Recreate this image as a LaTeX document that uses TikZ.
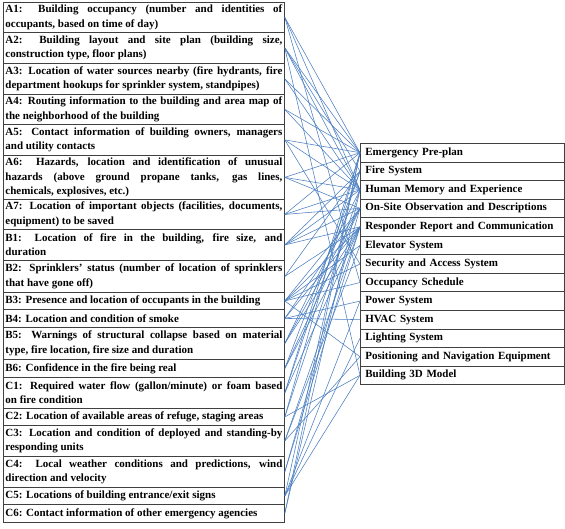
\documentclass[tikz,border=0pt]{standalone}
\usepackage{fontspec}
\setmainfont{Liberation Serif}
\definecolor{linkblue}{RGB}{74,126,192}
\begin{document}
\begin{tikzpicture}[x=1pt,y=-1pt,
  boxfont/.style={font=\fontsize{11}{14.5}\selectfont\bfseries},
  lbox/.style={draw=black!75, line width=0.8pt, anchor=north west, text width=277pt,
    inner xsep=2pt, inner ysep=0pt, align=justify, boxfont},
  rbox/.style={draw=black!75, line width=0.8pt, anchor=north west, text width=194pt,
    minimum height=18.55pt, inner xsep=5pt, inner ysep=0pt, align=left, boxfont},
  link/.style={draw=linkblue, line width=0.55pt}]
\useasboundingbox (0,0) rectangle (565,528);
% left boxes
\node[lbox, minimum height=30pt] (A1) at (3,2) {A1: Building occupancy (number and identities of\linebreak occupants, based on time of day)};
\node[lbox, minimum height=31pt] (A2) at (3,32) {A2: Building layout and site plan (building size,\linebreak construction type, floor plans)};
\node[lbox, minimum height=31pt] (A3) at (3,63) {A3: Location of water sources nearby (fire hydrants, fire\linebreak department hookups for sprinkler system, standpipes)};
\node[lbox, minimum height=30pt] (A4) at (3,94) {A4: Routing information to the building and area map of\linebreak the neighborhood of the building};
\node[lbox, minimum height=31pt] (A5) at (3,124) {A5: Contact information of building owners, managers\linebreak and utility contacts};
\node[lbox, minimum height=44pt] (A6) at (3,155) {A6: Hazards, location and identification of unusual\linebreak hazards (above ground propane tanks, gas lines,\linebreak chemicals, explosives, etc.)};
\node[lbox, minimum height=30pt] (A7) at (3,199) {A7: Location of important objects (facilities, documents,\linebreak equipment) to be saved};
\node[lbox, minimum height=31pt] (B1) at (3,229) {B1: Location of fire in the building, fire size, and\linebreak duration};
\node[lbox, minimum height=32pt] (B2) at (3,260) {B2: Sprinklers’ status (number of location of sprinklers\linebreak that have gone off)};
\node[lbox, minimum height=17pt] (B3) at (3,292) {B3: Presence and location of occupants in the building};
\node[lbox, minimum height=18pt] (B4) at (3,309) {B4: Location and condition of smoke};
\node[lbox, minimum height=32pt] (B5) at (3,327) {B5: Warnings of structural collapse based on material\linebreak type, fire location, fire size and duration};
\node[lbox, minimum height=18pt] (B6) at (3,359) {B6: Confidence in the fire being real};
\node[lbox, minimum height=31pt] (C1) at (3,377) {C1: Required water flow (gallon/minute) or foam based\linebreak on fire condition};
\node[lbox, minimum height=17pt] (C2) at (3,408) {C2: Location of available areas of refuge, staging areas};
\node[lbox, minimum height=31pt] (C3) at (3,425) {C3: Location and condition of deployed and standing-by\linebreak responding units};
\node[lbox, minimum height=31pt] (C4) at (3,456) {C4: Local weather conditions and predictions, wind\linebreak direction and velocity};
\node[lbox, minimum height=17pt] (C5) at (3,487) {C5: Locations of building entrance/exit signs};
\node[lbox, minimum height=18pt] (C6) at (3,504) {C6: Contact information of other emergency agencies};
% right boxes
\node[rbox] (EP) at (360,143.00) {Emergency Pre-plan};
\node[rbox] (FS) at (360,161.55) {Fire System};
\node[rbox] (HM) at (360,180.10) {Human Memory and Experience};
\node[rbox] (OS) at (360,198.65) {On-Site Observation and Descriptions};
\node[rbox] (RR) at (360,217.20) {Responder Report and Communication};
\node[rbox] (EL) at (360,235.75) {Elevator System};
\node[rbox] (SA) at (360,254.30) {Security and Access System};
\node[rbox] (OC) at (360,272.85) {Occupancy Schedule};
\node[rbox] (PW) at (360,291.40) {Power System};
\node[rbox] (HV) at (360,309.95) {HVAC System};
\node[rbox] (LI) at (360,328.50) {Lighting System};
\node[rbox] (PN) at (360,347.05) {Positioning and Navigation Equipment};
\node[rbox] (BM) at (360,365.60) {Building 3D Model};
% connectors
\foreach \l/\r in {A1/EP, A1/OC, A1/HM,
  A2/EP, A2/HM, A2/BM, A2/FS,
  A3/EP, A3/HM,
  A4/EP, A4/HM,
  A5/EP, A5/HM, A5/SA,
  A6/EP, A6/HM, A6/OS,
  A7/EP, A7/HM, A7/OS,
  B1/FS, B1/OS, B1/RR, B1/HM,
  B2/FS, B2/RR,
  B3/OS, B3/RR, B3/SA, B3/PN, B3/OC, B3/EL,
  B4/OS, B4/RR, B4/HV, B4/PW,
  B5/HM, B5/RR, B5/OS,
  B6/FS, B6/OS, B6/RR,
  C1/FS, C1/EP, C1/RR,
  C2/EP, C2/BM, C2/HM,
  C3/RR, C3/PN, C3/EL,
  C4/OS, C4/RR,
  C5/EP, C5/LI, C5/BM, C5/PW,
  C6/EP, C6/HM}
  \draw[link] (\l.east) -- (\r.west);
\end{tikzpicture}
\end{document}
